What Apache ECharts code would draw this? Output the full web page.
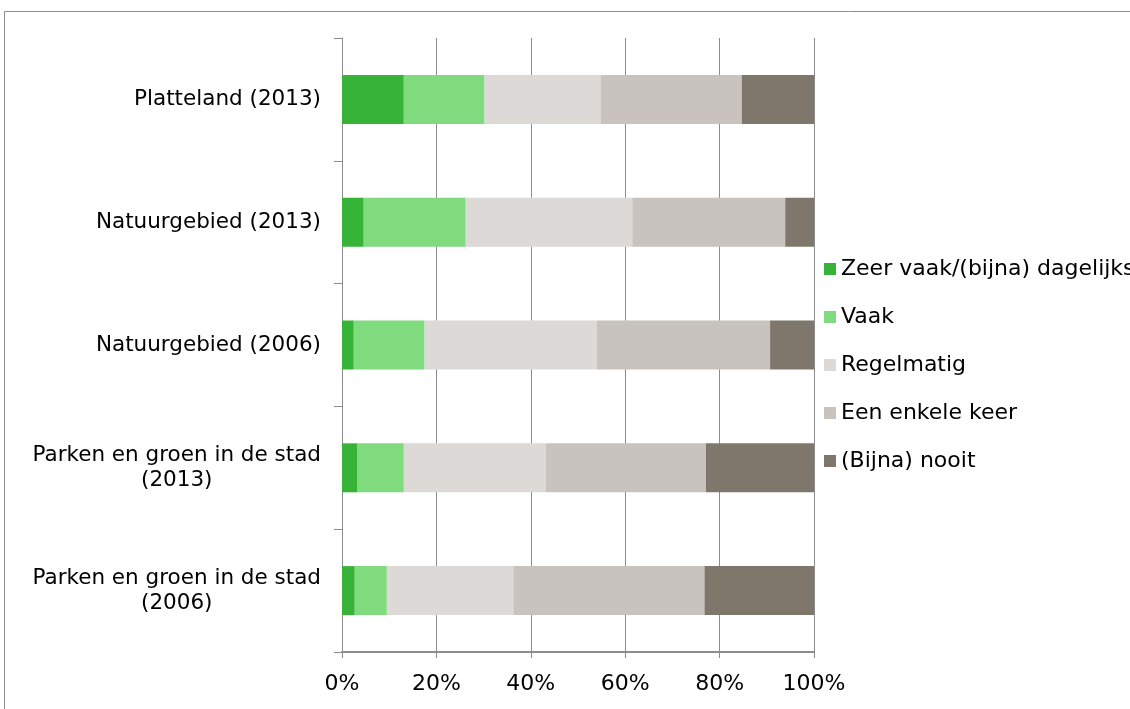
<!DOCTYPE html>
<html>
<head>
<meta charset="utf-8">
<script src="https://cdn.jsdelivr.net/npm/echarts@6/dist/echarts.min.js"></script>
<style>
html,body{margin:0;padding:0;background:#fff;}
#chart{width:1130px;height:709px;}
</style>
</head>
<body>
<div id="chart"></div>
<script>
const categories = [
  "Platteland (2013)",
  "Natuurgebied (2013)",
  "Natuurgebied (2006)",
  "Parken en groen in de stad\n(2013)",
  "Parken en groen in de stad\n(2006)"
];
const seriesNames = ["Zeer vaak/(bijna) dagelijks", "Vaak", "Regelmatig", "Een enkele keer", "(Bijna) nooit"];
const zeerVaak = [13.1, 4.6, 2.5, 3.3, 2.7];
const vaak = [17.1, 21.6, 15.0, 9.8, 6.8];
const regelmatig = [24.6, 35.3, 36.5, 30.1, 26.8];
const enkeleKeer = [29.9, 32.4, 36.7, 33.9, 40.5];
const nooit = [15.3, 6.1, 9.3, 22.9, 23.2];
const xTicks = [0, 20, 40, 60, 80, 100];

const colors = ["#37B337", "#80DA7E", "#DCD9D6", "#C8C3BE", "#7F776B"];
const seriesData = [zeerVaak, vaak, regelmatig, enkeleKeer, nooit];
const FONT = "DejaVu Sans";

const chart = echarts.init(document.getElementById('chart'), null, {renderer: 'canvas'});
chart.setOption({
  animation: false,
  backgroundColor: '#fff',
  textStyle: {fontFamily: FONT},
  graphic: [{
    type: 'polyline',
    shape: {points: [[4.5, 709], [4.5, 11.5], [1130, 11.5]]},
    style: {stroke: '#8c8c8c', lineWidth: 1, fill: null}
  }],
  grid: {left: 342, right: 316, top: 38, bottom: 57},
  legend: {
    orient: 'vertical',
    left: 819,
    top: 253,
    itemWidth: 12,
    itemHeight: 12,
    itemGap: 26,
    icon: 'rect',
    textStyle: {fontFamily: FONT, fontSize: 22, color: '#000'},
    data: seriesNames
  },
  xAxis: {
    type: 'value',
    min: xTicks[0],
    max: xTicks[xTicks.length - 1],
    interval: 20,
    axisLine: {show: true, lineStyle: {color: '#8c8c8c', width: 2}},
    axisTick: {show: true, length: 6, lineStyle: {color: '#8c8c8c'}},
    splitLine: {show: true, lineStyle: {color: '#8c8c8c', width: 1}},
    axisLabel: {formatter: '{value}%', fontFamily: FONT, fontSize: 22, color: '#000', margin: 21}
  },
  yAxis: {
    type: 'category',
    inverse: true,
    data: categories,
    axisLine: {show: true, lineStyle: {color: '#8c8c8c', width: 1}},
    axisTick: {show: true, length: 8, lineStyle: {color: '#8c8c8c'}},
    axisLabel: {
      color: '#000', margin: 21, align: 'right',
      formatter: v => v.split('\n').map(l => '{c|' + l + '}').join('\n'),
      rich: {c: {fontFamily: FONT, fontSize: 21.5, color: '#000', lineHeight: 25, align: 'center'}}
    }
  },
  series: seriesNames.map((n, i) => ({
    name: n,
    type: 'bar',
    stack: 'total',
    barWidth: 49,
    itemStyle: {color: colors[i]},
    data: seriesData[i]
  }))
});
</script>
</body>
</html>
